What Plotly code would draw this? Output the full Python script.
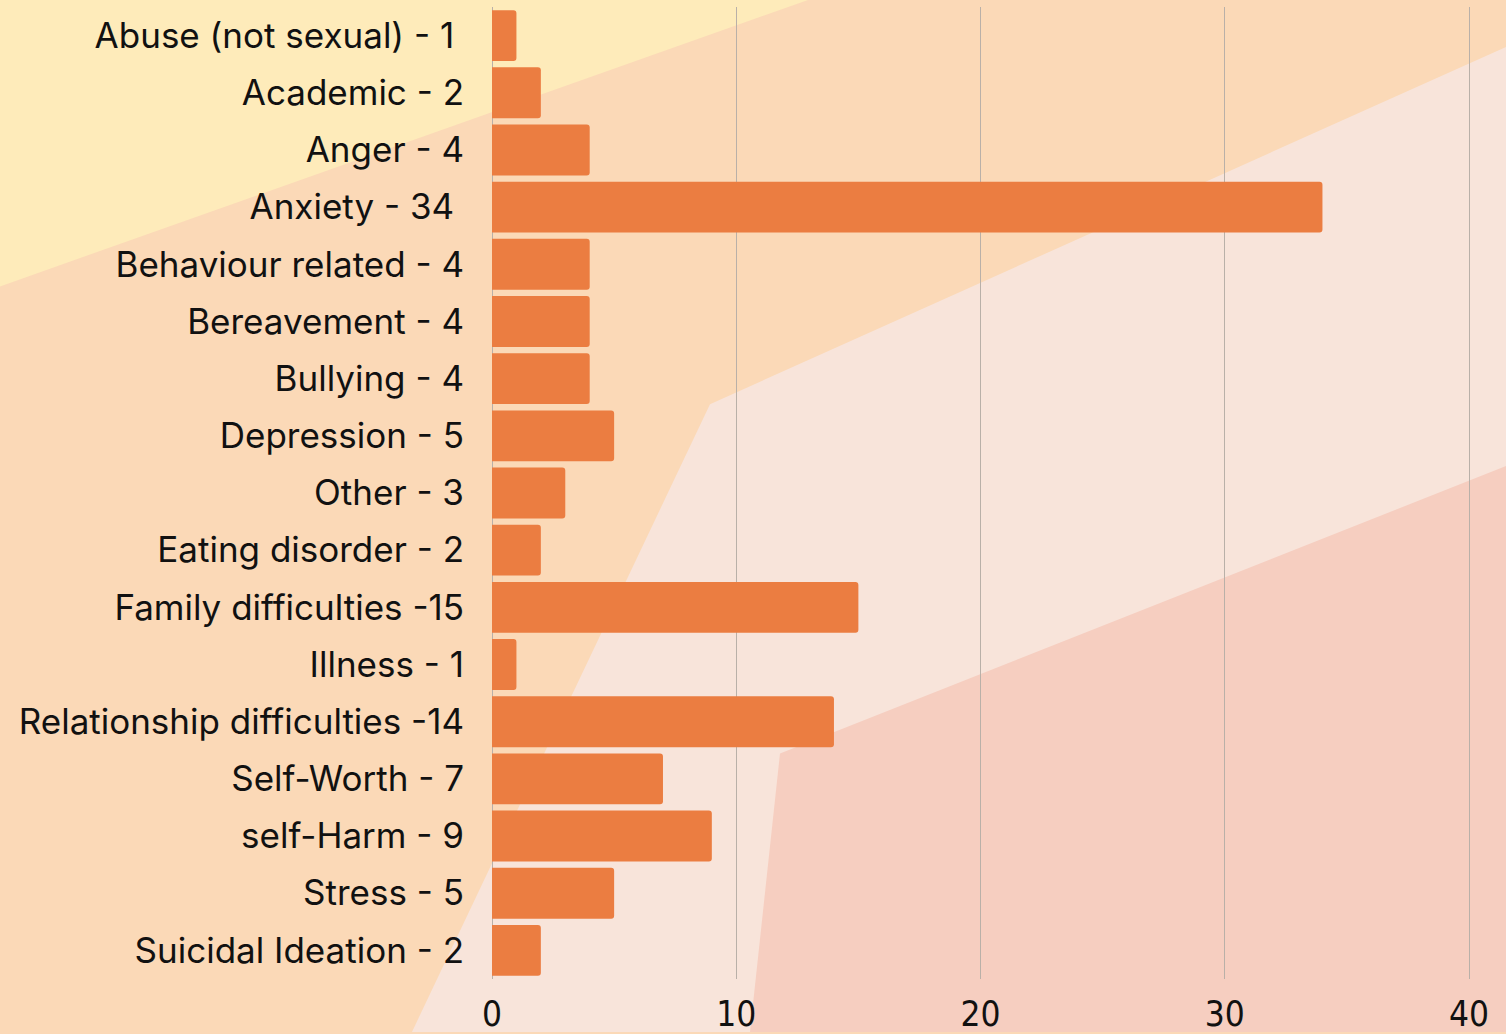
import plotly.graph_objects as go

# Reasons for referral, with the count stated in each label
names = [
    "Abuse (not sexual)", "Academic", "Anger", "Anxiety", "Behaviour related",
    "Bereavement", "Bullying", "Depression", "Other", "Eating disorder",
    "Family difficulties", "Illness", "Relationship difficulties", "Self-Worth",
    "self-Harm", "Stress", "Suicidal Ideation",
]
counts = [1, 2, 4, 34, 4, 4, 4, 5, 3, 2, 15, 1, 14, 7, 9, 5, 2]
joiners = [" - ", " - ", " - ", " - ", " - ", " - ", " - ", " - ", " - ", " - ",
           " -", " - ", " -", " - ", " - ", " - ", " - "]
trailers = ["\u00a0", "", "", "\u00a0", "", "", "", "", "", "", "", "", "", "", "", "", ""]
x_ticks = [0, 10, 20, 30, 40]

labels = [f"{n}{j}{c}{t}" for n, j, c, t in zip(names, joiners, counts, trailers)]

W, H = 1506, 1034
M_L, M_R, M_T, M_B = 492, 0, 7, 53
PW, PH = W - M_L - M_R, H - M_T - M_B


def to_paper(pts):
    """Convert page-pixel vertices to a paper-referenced SVG path."""
    segs = []
    for i, (px, py) in enumerate(pts):
        xp = (px - M_L) / PW
        yp = (H - M_B - py) / PH
        segs.append(("M" if i == 0 else "L") + f"{xp:.5f},{yp:.5f}")
    return " ".join(segs) + " Z"


backdrop = [
    ("#FEEBBA", [(0, 0), (808, 0), (0, 287)]),
    ("#F8E4DA", [(412, 1034), (710, 405), (1506, 47), (1506, 1034)]),
    ("#F6CEC0", [(750, 1034), (780, 755), (1506, 467), (1506, 1034)]),
]

shapes = [
    dict(type="path", path=to_paper(pts), xref="paper", yref="paper",
         fillcolor=col, line=dict(width=0), layer="below")
    for col, pts in backdrop
]

fig = go.Figure(
    go.Bar(
        x=counts,
        y=labels,
        orientation="h",
        marker=dict(color="#EB7D41", line=dict(width=0), cornerradius=3),
        hoverinfo="x+y",
    )
)

fig.update_layout(
    width=W,
    height=H,
    margin=dict(l=M_L, r=M_R, t=M_T, b=M_B, pad=0),
    paper_bgcolor="#FBD9B7",
    plot_bgcolor="rgba(0,0,0,0)",
    bargap=0.11,
    shapes=shapes,
    showlegend=False,
    xaxis=dict(
        range=[0, PW / (977 / 40)],
        tickvals=x_ticks,
        ticktext=[str(v) for v in x_ticks],
        showgrid=True,
        gridcolor="#B9B0A8",
        gridwidth=1,
        zeroline=True,
        zerolinecolor="#B9B0A8",
        zerolinewidth=1,
        showline=False,
        ticks="",
        ticklabelstandoff=11,
        tickfont=dict(family="DejaVu Sans Condensed", size=35, color="#111111"),
        fixedrange=True,
    ),
    yaxis=dict(
        autorange="reversed",
        showgrid=False,
        zeroline=False,
        showline=False,
        ticks="",
        ticklabelstandoff=27,
        tickfont=dict(family="Inter", size=35, color="#111111"),
        fixedrange=True,
    ),
)

fig.write_html("out.html")
